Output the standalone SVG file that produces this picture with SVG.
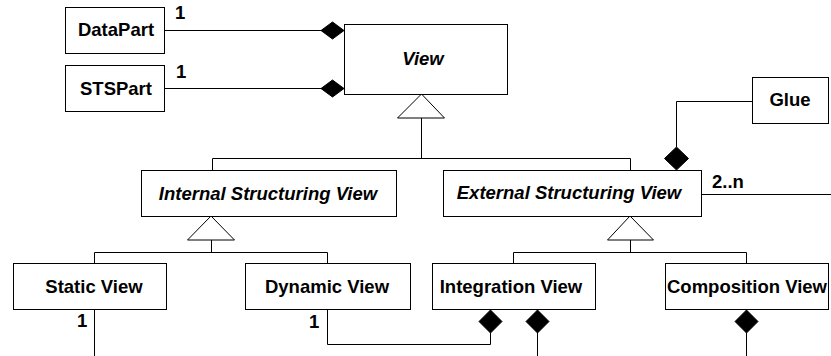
<svg xmlns="http://www.w3.org/2000/svg" width="831" height="356" viewBox="0 0 831 356">
<style>
.box{fill:#fff;stroke:#000;stroke-width:1}
.t{font-family:"Liberation Sans",Arial,sans-serif;font-weight:bold;font-size:18.5px;fill:#000;text-anchor:middle}
.i{font-style:italic}
.m{font-family:"Liberation Sans",Arial,sans-serif;font-weight:bold;font-size:18.5px;fill:#000}
.c{fill:none;stroke:#000;stroke-width:1}
.d{fill:#000;stroke:#000;stroke-width:1}
.g{fill:#fff;stroke:#000;stroke-width:1}
</style>
<rect width="831" height="356" fill="#fff"/>
<g id="connectors">
<line class="c" x1="164" y1="30.5" x2="322" y2="30.5"/>
<polygon class="d" points="321,30.5 332.5,22 344,30.5 332.5,39"/>
<line class="c" x1="164" y1="88.5" x2="322" y2="88.5"/>
<polygon class="d" points="321,88.5 332.5,80 344,88.5 332.5,97"/>
<polygon class="g" points="421.5,94 397.5,118 444.5,118"/>
<polyline class="c" points="421.5,118 421.5,158.5"/>
<polyline class="c" points="212.5,170 212.5,158.5 630.5,158.5 630.5,170"/>
<polyline class="c" points="752,101.5 676.5,101.5 676.5,147"/>
<polygon class="d" points="676.5,147 688.5,158.5 676.5,170 664.5,158.5"/>
<line class="c" x1="701" y1="194.5" x2="831" y2="194.5"/>
<polygon class="g" points="211,216 187.5,240 234.5,240"/>
<polyline class="c" points="211.5,240 211.5,252.5"/>
<polyline class="c" points="94.5,263 94.5,252.5 327.5,252.5 327.5,263"/>
<polygon class="g" points="630,216 607.5,240 653.5,240"/>
<polyline class="c" points="630.5,240 630.5,252.5"/>
<polyline class="c" points="513.5,263 513.5,252.5 746.5,252.5 746.5,263"/>
<line class="c" x1="94.5" y1="309" x2="94.5" y2="356"/>
<polyline class="c" points="327.5,309 327.5,344.5 490.5,344.5 490.5,333"/>
<polygon class="d" points="490.5,310 502,321.5 490.5,333 479,321.5"/>
<polygon class="d" points="537.5,310 549,321.5 537.5,333 526,321.5"/>
<line class="c" x1="537.5" y1="333" x2="537.5" y2="356"/>
<polygon class="d" points="746.5,310 758,321.5 746.5,333 735,321.5"/>
<line class="c" x1="746.5" y1="333" x2="746.5" y2="356"/>
<text class="m" x="175" y="19">1</text>
<text class="m" x="176" y="78">1</text>
<text class="m" x="712" y="188">2..n</text>
<text class="m" x="77" y="327">1</text>
<text class="m" x="309" y="328">1</text>
</g>
<g id="DataPart"><rect class="box" x="65.5" y="7.5" width="99" height="46"/><text class="t" x="116" y="36">DataPart</text></g>
<g id="STSPart"><rect class="box" x="65.5" y="65.5" width="99" height="46"/><text class="t" x="116" y="95">STSPart</text></g>
<g id="View"><rect class="box" x="344.5" y="24.5" width="163" height="70"/><text class="t i" x="423" y="65">View</text></g>
<g id="Glue"><rect class="box" x="752.5" y="77.5" width="76" height="46"/><text class="t" x="790" y="106">Glue</text></g>
<g id="InternalStructuringView"><rect class="box" x="141.5" y="170.5" width="255" height="46"/><text class="t i" x="268" y="200">Internal Structuring View</text></g>
<g id="ExternalStructuringView"><rect class="box" x="443.5" y="170.5" width="258" height="46"/><text class="t i" x="569" y="199">External Structuring View</text></g>
<g id="StaticView"><rect class="box" x="13.5" y="263.5" width="153" height="46"/><text class="t" x="94" y="293">Static View</text></g>
<g id="DynamicView"><rect class="box" x="245.5" y="263.5" width="165" height="46"/><text class="t" x="327" y="293">Dynamic View</text></g>
<g id="IntegrationView"><rect class="box" x="432.5" y="263.5" width="163" height="46"/><text class="t" x="511" y="293">Integration View</text></g>
<g id="CompositionView"><rect class="box" x="665.5" y="263.5" width="163" height="46"/><text class="t" x="747" y="293">Composition View</text></g>
</svg>
